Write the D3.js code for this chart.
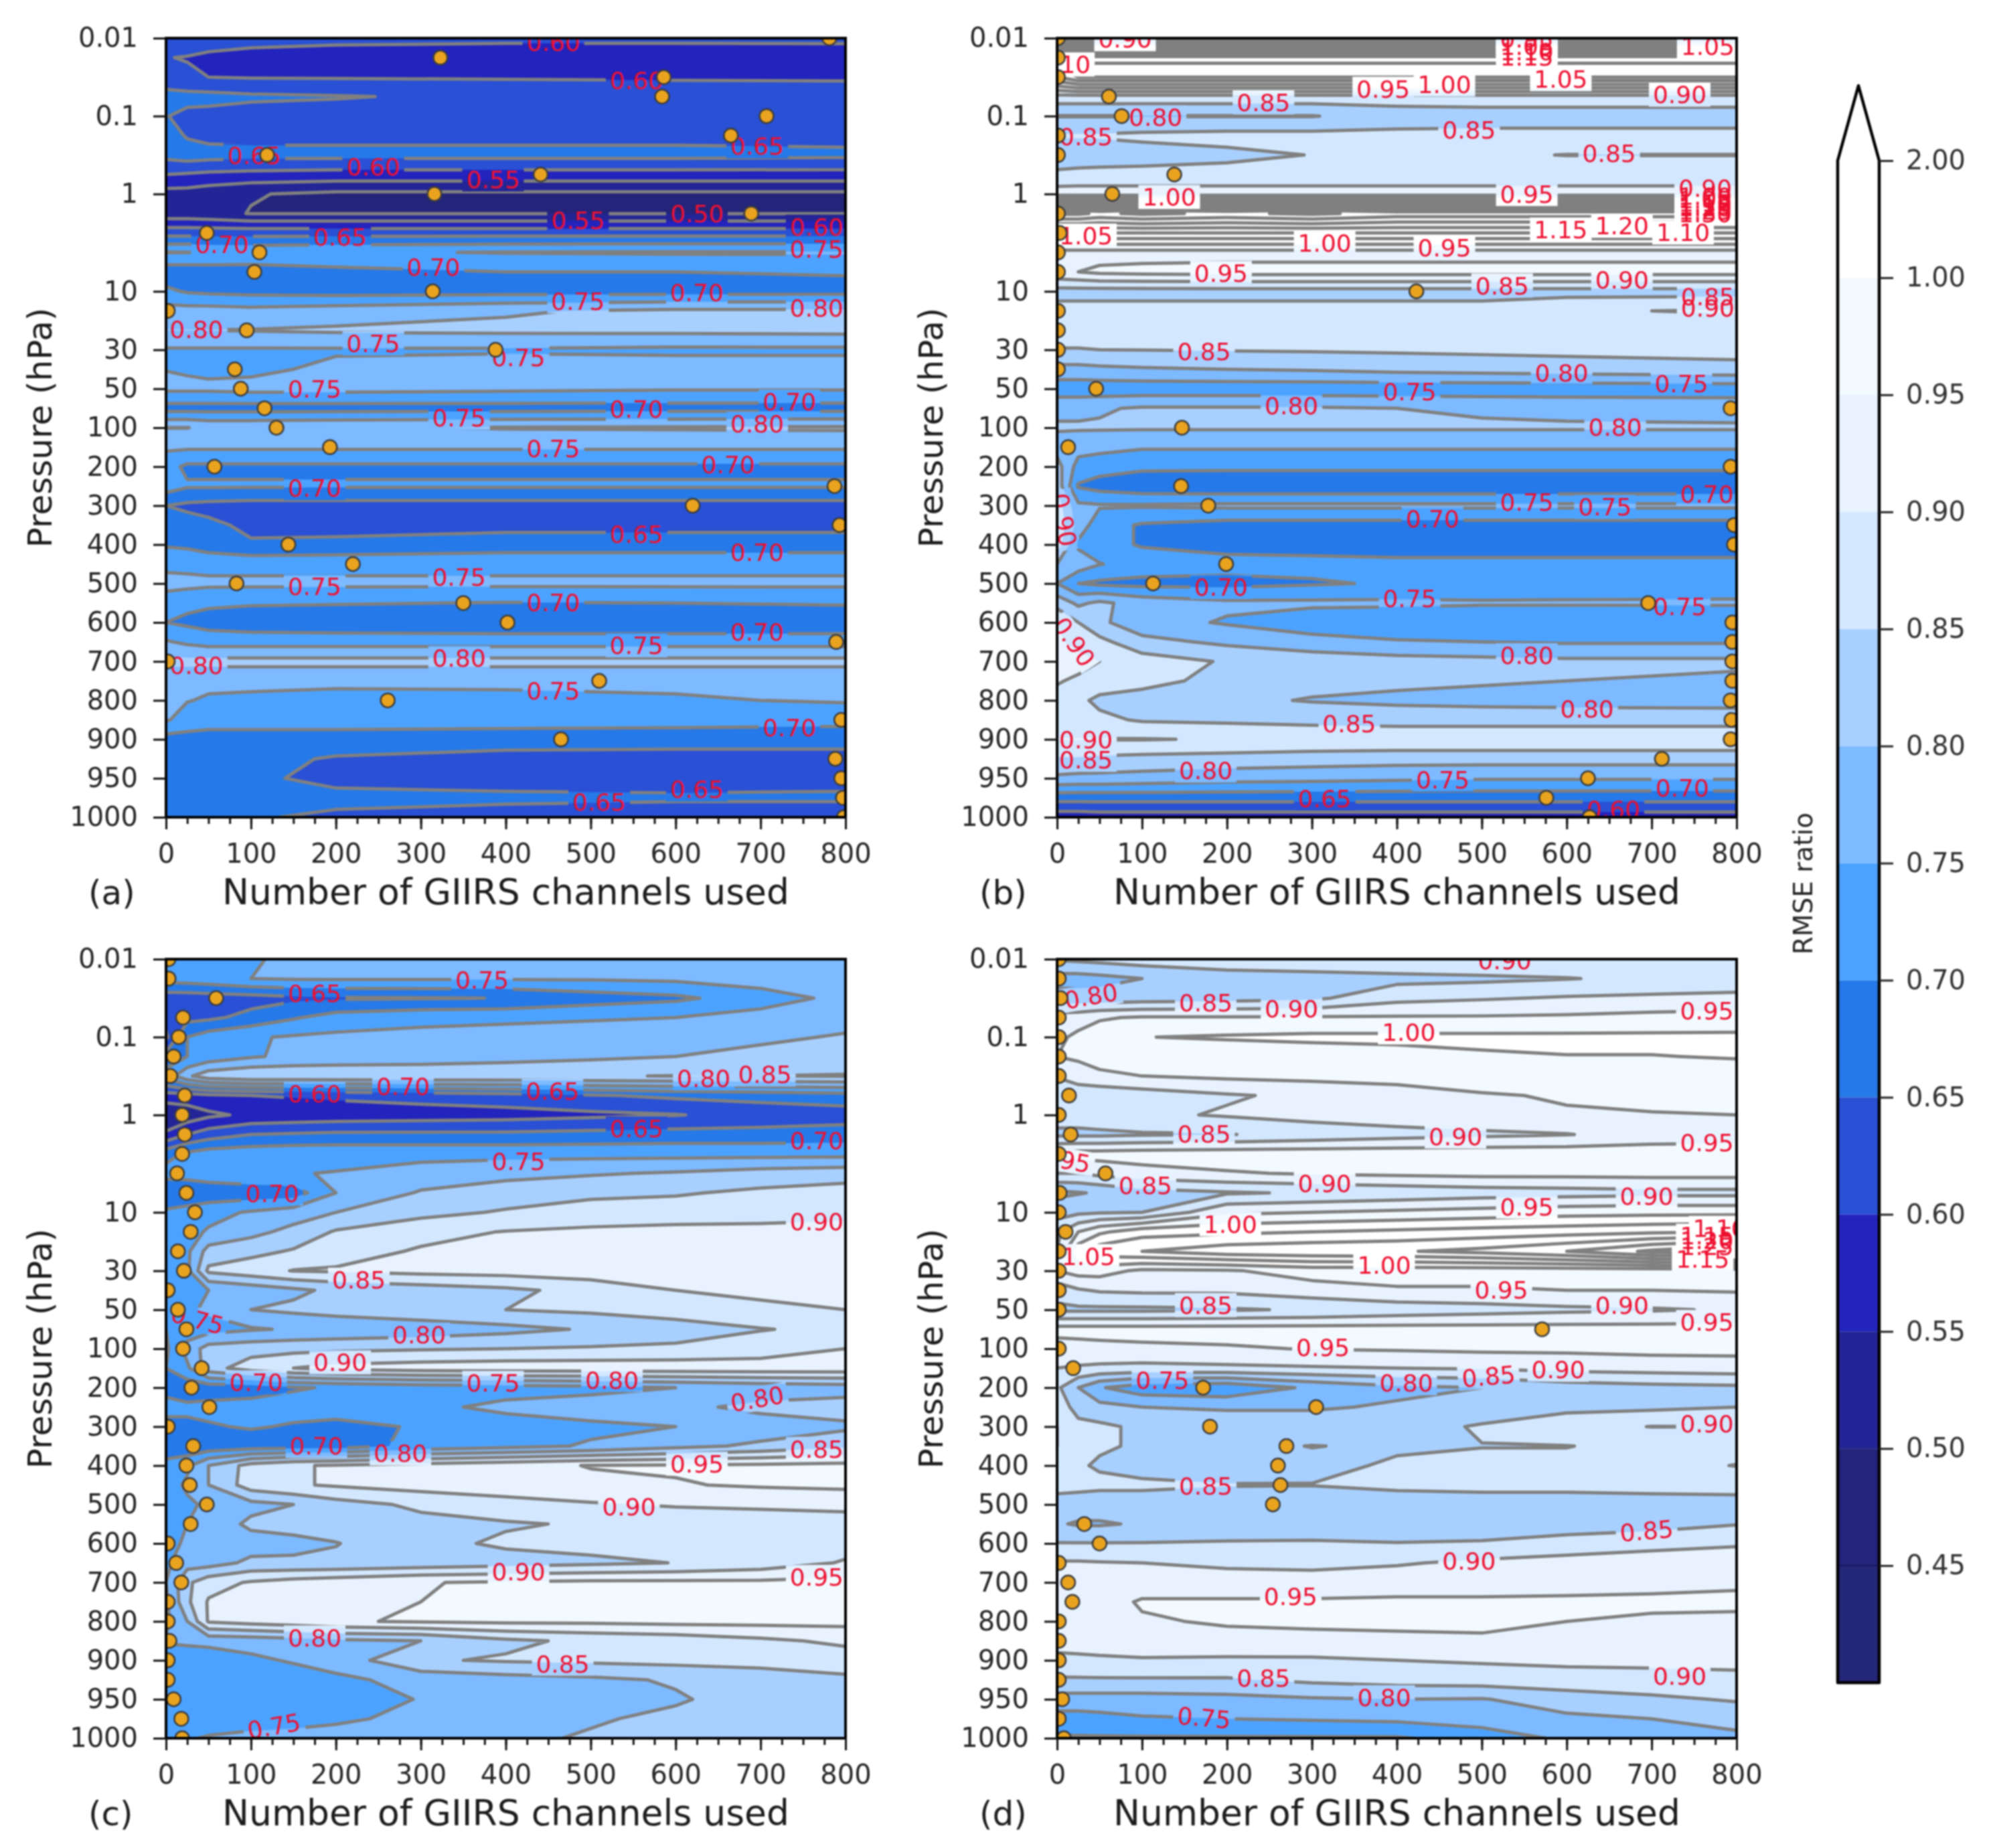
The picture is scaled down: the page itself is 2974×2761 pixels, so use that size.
<!DOCTYPE html>
<html>
<head>
<meta charset="utf-8">
<script src="https://cdn.jsdelivr.net/npm/d3@7"></script>
<style>
body { margin: 0; background: white; }
text { font-family: "DejaVu Sans"; }
svg { filter: blur(0.8px); }
</style>
</head>
<body>
<div id="chart"></div>
<script>
// row index on the pressure axis (41 levels) and the ones that carry a tick
const pressureRows = [0, 4, 8, 13, 16, 18, 20, 22, 24, 26, 28, 30, 32, 34, 36, 38, 40]
const pressureLabels = ["0.01", "0.1", "1", "10", "30", "50", "100", "200", "300", "400", "500", "600", "700", "800", "900", "950", "1000"]

const fillLevels = [0.45, 0.50, 0.55, 0.60, 0.65, 0.70, 0.75, 0.80, 0.85, 0.90, 0.95, 1.00]
const fillColors = ["#24267a", "#24247a", "#232596", "#2323bd", "#2950d5", "#2679e8", "#4ca3ff", "#7dbaff", "#a8d0ff", "#d3e8ff", "#e8f3ff", "#f3faff", "#ffffff"]
const lineLevels = [0.45, 0.50, 0.55, 0.60, 0.65, 0.70, 0.75, 0.80, 0.85, 0.90, 0.95, 1.00, 1.05, 1.10, 1.15, 1.20, 1.25, 1.30]
const barTicks = ["0.45", "0.50", "0.55", "0.60", "0.65", "0.70", "0.75", "0.80", "0.85", "0.90", "0.95", "1.00", "2.00"]

const channelsA = [0, 25, 50, 100, 200, 400, 600, 800]
const ratioA = [
[.65,.64,.635,.625,.618,.612,.612,.612],
[.602,.597,.585,.575,.567,.567,.567,.57],
[.625,.61,.60,.597,.596,.595,.595,.595],
[.665,.665,.665,.658,.653,.64,.625,.62],
[.652,.638,.635,.63,.63,.63,.63,.63],
[.675,.645,.635,.635,.635,.635,.635,.635],
[.665,.675,.67,.665,.665,.665,.665,.66],
[.60,.595,.59,.585,.58,.58,.58,.58],
[.53,.53,.52,.503,.49,.49,.49,.49],
[.52,.52,.515,.498,.498,.498,.498,.498],
[.63,.63,.63,.63,.63,.63,.63,.63],
[.752,.751,.745,.74,.745,.752,.755,.755],
[.67,.67,.675,.675,.685,.70,.70,.705],
[.71,.695,.69,.685,.68,.68,.68,.68],
[.77,.77,.77,.765,.775,.795,.81,.81],
[.801,.801,.801,.802,.807,.81,.812,.815],
[.745,.745,.745,.745,.745,.745,.74,.74],
[.749,.745,.74,.74,.76,.77,.775,.775],
[.76,.76,.76,.765,.765,.76,.755,.755],
[.68,.68,.68,.68,.68,.68,.68,.68],
[.801,.801,.79,.79,.795,.803,.805,.807],
[.758,.758,.758,.758,.758,.758,.758,.758],
[.72,.69,.69,.69,.69,.69,.69,.69],
[.725,.705,.705,.705,.705,.705,.705,.705],
[.65,.64,.635,.63,.63,.63,.63,.63],
[.68,.67,.66,.64,.635,.635,.635,.635],
[.695,.69,.675,.655,.66,.675,.675,.675],
[.735,.735,.735,.735,.735,.735,.735,.735],
[.77,.765,.76,.76,.76,.76,.76,.76],
[.72,.712,.708,.705,.703,.698,.70,.705],
[.70,.69,.68,.67,.665,.66,.66,.66],
[.755,.74,.73,.73,.73,.73,.73,.73],
[.815,.815,.815,.815,.815,.815,.815,.815],
[.76,.76,.76,.76,.76,.76,.76,.76],
[.76,.752,.745,.742,.735,.738,.745,.755],
[.755,.73,.72,.72,.72,.72,.72,.715],
[.68,.68,.68,.68,.68,.675,.67,.67],
[.68,.675,.67,.665,.645,.63,.63,.63],
[.67,.67,.665,.66,.635,.63,.635,.64],
[.67,.67,.67,.67,.665,.66,.655,.655],
[.675,.67,.67,.655,.64,.63,.63,.63]]
const bestA = [781,323,586,584,707,665,119,441,316,689,48,110,104,314,2,95,388,81,88,116,130,193,57,787,620,793,144,220,83,350,402,789,2,510,261,795,465,788,795,797,798]
const labelsA = [["0.60",456,.2],["0.60",554,2.15],["0.65",104,6],["0.60",244,6.6],["0.55",385,7.25],["0.55",485,9.35],["0.50",625,9],["0.65",205,10.2],["0.70",66,10.57],["0.65",696,5.55],["0.60",766,9.68],["0.75",766,10.83],["0.70",315,11.77],["0.70",625,13.07],["0.75",485,13.5],["0.80",766,13.85],["0.80",36,14.95],["0.75",244,15.67],["0.75",415,16.38],["0.75",175,18],["0.75",345,19.5],["0.70",554,19.04],["0.70",734,18.67],["0.80",696,19.8],["0.75",456,21.07],["0.70",662,21.9],["0.70",175,23.1],["0.65",554,25.47],["0.70",696,26.38],["0.75",345,27.65],["0.75",175,28.15],["0.70",456,28.98],["0.70",696,30.48],["0.75",554,31.17],["0.80",345,31.82],["0.80",36,32.2],["0.75",456,33.5],["0.70",734,35.4],["0.65",625,38.57],["0.65",510,39.2]]

const channelsB = [0, 25, 50, 100, 200, 300, 400, 500, 600, 800]
const ratioB = [
[.88,.88,.88,.88,.88,.88,.88,.88,.88,.88],
[1.2,1.22,1.22,1.22,1.22,1.22,1.22,1.22,1.22,1.22],
[1.10,1.15,1.15,1.15,1.15,1.15,1.15,1.15,1.15,1.15],
[.88,.88,.88,.88,.88,.88,.88,.88,.88,.88],
[.798,.798,.798,.798,.798,.798,.82,.825,.825,.825],
[.855,.855,.855,.86,.865,.865,.865,.865,.865,.865],
[.82,.82,.825,.83,.84,.851,.856,.853,.8495,.8495],
[.86,.865,.865,.865,.865,.865,.865,.865,.865,.865],
[.925,.925,.925,.925,.925,.925,.925,.925,.925,.925],
[1.31,1.31,1.29,1.31,1.29,1.31,1.28,1.28,1.28,1.28],
[1.10,1.10,1.10,1.10,1.10,1.10,1.10,1.10,1.10,1.10],
[.93,.93,.93,.93,.93,.93,.93,.93,.93,.93],
[.94,.95,.96,.965,.97,.97,.97,.97,.97,.97],
[.83,.83,.83,.83,.83,.83,.83,.83,.83,.83],
[.87,.87,.87,.87,.87,.87,.87,.87,.895,.905],
[.87,.87,.87,.87,.87,.87,.87,.87,.87,.87],
[.848,.848,.85,.851,.853,.855,.857,.86,.863,.866],
[.785,.785,.79,.795,.80,.805,.815,.82,.825,.835],
[.72,.72,.72,.72,.72,.72,.72,.72,.72,.72],
[.79,.79,.795,.805,.805,.805,.80,.795,.79,.785],
[.805,.805,.805,.805,.805,.805,.805,.805,.805,.805],
[.78,.77,.765,.755,.755,.755,.755,.755,.755,.755],
[.82,.73,.72,.71,.71,.71,.71,.71,.71,.71],
[.83,.695,.68,.665,.66,.66,.66,.66,.66,.66],
[.88,.76,.755,.755,.76,.76,.76,.76,.76,.76],
[.89,.78,.72,.695,.68,.68,.68,.68,.68,.68],
[.88,.74,.72,.695,.68,.68,.68,.68,.68,.68],
[.80,.78,.752,.73,.72,.715,.71,.71,.71,.71],
[.75,.70,.69,.685,.685,.695,.705,.72,.725,.73],
[.83,.79,.81,.78,.76,.76,.76,.755,.755,.755],
[.90,.85,.81,.77,.745,.72,.71,.71,.71,.715],
[.91,.88,.865,.815,.79,.77,.755,.75,.745,.745],
[.92,.92,.90,.875,.845,.83,.82,.815,.81,.81],
[.905,.89,.875,.865,.835,.815,.81,.805,.80,.79],
[.88,.86,.84,.83,.81,.797,.79,.785,.783,.78],
[.87,.87,.86,.845,.84,.835,.83,.83,.83,.83],
[.902,.902,.902,.902,.897,.89,.89,.89,.89,.89],
[.845,.845,.84,.835,.83,.825,.82,.82,.82,.82],
[.79,.785,.785,.78,.77,.765,.76,.755,.755,.755],
[.67,.67,.67,.67,.67,.67,.67,.67,.67,.67],
[.57,.57,.575,.575,.575,.575,.575,.575,.575,.575]]
const bestB = [1,1,1,61,76,1,1,138,65,1,3,1,1,423,1,1,1,1,46,793,147,13,793,146,178,797,797,199,113,696,795,795,795,795,793,794,793,712,625,576,627]
const labelsB = [["0.90",80,.05],["0.95",553,.05],["1.05",553,.4],["1.10",553,.7],["1.15",553,.95],["1.05",766,.43],["1.10",8,1.35],["1.05",593,2.1],["1.00",456,2.38],["0.95",384,2.6],["0.90",733,2.9],["0.85",243,3.3],["0.80",116,4.07],["0.85",485,4.7],["0.85",34,5.06],["0.85",650,5.9],["1.00",132,8.15],["0.95",553,8],["0.90",763,7.7],["1.00",763,8.1],["1.05",763,8.3],["1.10",763,8.45],["1.15",763,8.6],["1.20",763,8.7],["1.25",763,8.85],["1.30",763,9],["1.15",593,9.83],["1.20",665,9.63],["1.10",737,9.98],["1.05",34,10.14],["1.00",315,10.52],["0.95",456,10.75],["0.95",193,12.05],["0.90",665,12.4],["0.85",524,12.7],["0.85",766,13.27],["0.90",766,13.85],["0.85",173,16.1],["0.80",594,17.17],["0.75",735,17.74],["0.75",415,18.16],["0.80",276,18.85],["0.80",657,19.97],["0.90",8,24.73,80],["0.70",765,23.4],["0.75",553,23.8],["0.75",645,24.07],["0.70",442,24.68],["0.70",193,28.18],["0.75",415,28.75],["0.75",733,29.18],["0.90",20,31,55],["0.80",553,31.68],["0.80",624,34.44],["0.85",344,35.2],["0.90",34,36.03],["0.85",34,37.05],["0.80",175,37.6],["0.75",454,38.07],["0.70",736,38.5],["0.65",315,39.03],["0.60",655,39.6]]

const channelsC = [0, 25, 50, 100, 150, 200, 300, 400, 500, 600, 700, 800]
const ratioC = [
[.72,.725,.73,.745,.76,.76,.77,.775,.775,.78,.78,.78],
[.72,.725,.73,.75,.755,.755,.755,.755,.755,.76,.775,.77],
[.62,.62,.625,.63,.64,.645,.647,.651,.675,.69,.725,.765],
[.62,.635,.64,.665,.695,.72,.735,.74,.745,.75,.77,.78],
[.59,.70,.725,.745,.755,.76,.765,.77,.775,.78,.79,.805],
[.67,.70,.72,.745,.76,.765,.77,.78,.79,.80,.815,.83],
[.72,.79,.83,.845,.845,.845,.845,.845,.848,.851,.85,.852],
[.58,.58,.59,.60,.605,.61,.62,.63,.645,.66,.67,.68],
[.50,.52,.54,.56,.565,.57,.575,.58,.59,.598,.615,.625],
[.56,.60,.625,.65,.655,.66,.66,.66,.665,.67,.67,.675],
[.68,.71,.725,.73,.735,.735,.735,.735,.735,.735,.735,.735],
[.72,.72,.73,.74,.748,.752,.77,.785,.795,.805,.82,.83],
[.65,.66,.665,.67,.675,.75,.805,.825,.84,.845,.86,.87],
[.71,.72,.735,.755,.775,.80,.835,.855,.87,.875,.88,.885],
[.72,.735,.755,.785,.815,.855,.885,.902,.91,.915,.915,.92],
[.72,.74,.82,.835,.855,.88,.905,.92,.93,.93,.93,.93],
[.72,.74,.86,.88,.902,.905,.915,.92,.93,.935,.935,.935],
[.72,.72,.75,.77,.79,.81,.825,.84,.865,.90,.915,.92],
[.72,.74,.76,.80,.81,.82,.835,.85,.86,.875,.885,.90],
[.70,.72,.73,.745,.755,.76,.77,.785,.805,.825,.848,.86],
[.69,.77,.82,.83,.835,.84,.845,.85,.855,.86,.87,.90],
[.70,.74,.83,.875,.90,.915,.925,.93,.93,.93,.93,.93],
[.68,.67,.67,.675,.695,.705,.72,.725,.735,.75,.765,.775],
[.72,.71,.715,.72,.72,.725,.735,.765,.775,.785,.815,.825],
[.68,.69,.695,.705,.695,.685,.705,.72,.74,.75,.77,.79],
[.66,.66,.665,.67,.675,.675,.715,.735,.755,.785,.81,.84],
[.72,.74,.80,.87,.895,.905,.92,.935,.952,.955,.96,.965],
[.72,.76,.80,.875,.895,.905,.92,.93,.94,.947,.955,.96],
[.73,.74,.76,.785,.80,.83,.86,.88,.895,.905,.91,.915],
[.74,.75,.77,.81,.82,.825,.835,.845,.855,.865,.87,.875],
[.73,.76,.77,.78,.785,.798,.835,.858,.865,.87,.875,.88],
[.74,.78,.78,.81,.81,.81,.82,.83,.84,.851,.87,.905],
[.75,.84,.88,.905,.92,.93,.948,.955,.96,.96,.96,.965],
[.74,.84,.905,.92,.93,.94,.95,.96,.965,.97,.97,.97],
[.74,.80,.905,.92,.93,.945,.955,.96,.96,.965,.965,.965],
[.755,.76,.765,.77,.78,.79,.80,.84,.86,.87,.89,.91],
[.72,.72,.72,.74,.755,.77,.845,.855,.86,.865,.87,.875],
[.72,.72,.72,.72,.725,.74,.765,.78,.79,.805,.82,.84],
[.71,.71,.71,.715,.715,.72,.753,.76,.775,.795,.82,.825],
[.72,.72,.72,.725,.73,.74,.765,.78,.795,.81,.82,.825],
[.74,.745,.755,.765,.77,.775,.785,.79,.805,.815,.825,.83]]
const bestC = [3,3,59,20,15,9,5,22,19,22,19,13,24,34,29,14,21,2,14,24,20,42,30,51,2,32,24,28,48,29,2,12,18,2,2,4,2,2,9,18,19]
const labelsC = [["0.75",372,1.08],["0.65",175,1.76],["0.80",633,6.12],["0.85",705,5.92],["0.60",175,6.92],["0.70",279,6.53],["0.65",455,6.76],["0.65",554,8.7],["0.70",766,9.33],["0.75",415,10.38],["0.70",125,12.03],["0.90",766,13.48],["0.85",227,16.46],["0.75",37,18.5,15],["0.80",298,19.28],["0.90",205,20.7],["0.70",106,21.73],["0.75",385,21.76],["0.80",525,21.6],["0.80",696,22.58,-10],["0.70",177,24.99],["0.80",276,25.37],["0.85",766,25.14],["0.95",625,25.9],["0.90",545,28.1],["0.90",415,31.46],["0.95",766,31.72],["0.80",175,34.83],["0.85",467,36.17],["0.75",127,39.38,-10]]

const channelsD = [0, 25, 50, 100, 200, 300, 400, 500, 600, 700, 800]
const ratioD = [
[.855,.86,.865,.875,.895,.895,.895,.90,.895,.885,.885],
[.78,.78,.785,.80,.815,.825,.835,.84,.848,.86,.865],
[.82,.82,.82,.825,.83,.84,.885,.895,.905,.91,.915],
[.925,.93,.945,.955,.955,.955,.955,.955,.958,.965,.97],
[.94,.96,.975,.999,1.005,1.01,1.01,1.01,1.01,1.01,1.01],
[.95,.955,.96,.965,.97,.975,.985,.995,.999,.999,1.002],
[.905,.935,.945,.95,.96,.965,.97,.98,.985,.985,.985],
[.85,.855,.86,.875,.895,.91,.925,.945,.955,.96,.965],
[.87,.87,.88,.89,.905,.92,.93,.94,.945,.948,.95],
[.84,.84,.84,.845,.848,.865,.88,.89,.898,.92,.925],
[.965,.97,.97,.975,.98,.98,.98,.98,.98,.98,.98],
[.90,.90,.915,.93,.945,.955,.96,.965,.965,.967,.967],
[.79,.797,.805,.83,.845,.855,.865,.875,.88,.885,.885],
[.83,.84,.845,.85,.94,.95,.96,.97,.98,.985,.985],
[.89,.95,.99,1.03,1.04,1.05,1.06,1.07,1.08,1.09,1.10],
[.90,1.03,1.08,1.10,1.13,1.14,1.145,1.165,1.20,1.26,1.31],
[.95,.97,.97,.94,.945,.97,.97,.97,.97,.97,.97],
[.87,.895,.905,.91,.91,.93,.945,.945,.95,.95,.955],
[.84,.84,.84,.84,.845,.855,.87,.88,.89,.895,.905],
[.97,.97,.97,.97,.97,.97,.97,.97,.97,.97,.97],
[.925,.93,.935,.94,.945,.952,.955,.96,.96,.965,.965],
[.90,.895,.89,.885,.89,.895,.90,.905,.915,.92,.925],
[.86,.80,.755,.72,.71,.76,.79,.80,.825,.835,.84],
[.88,.83,.815,.80,.795,.795,.805,.82,.835,.84,.85],
[.90,.865,.86,.84,.825,.825,.83,.855,.885,.901,.90],
[.90,.87,.855,.845,.84,.851,.845,.849,.849,.86,.865],
[.88,.855,.845,.83,.825,.84,.855,.86,.86,.86,.849],
[.87,.865,.86,.86,.852,.851,.86,.865,.865,.87,.875],
[.825,.825,.825,.825,.825,.825,.825,.825,.825,.825,.825],
[.805,.795,.795,.805,.815,.815,.815,.82,.825,.83,.848],
[.852,.852,.852,.852,.855,.857,.852,.855,.87,.885,.895],
[.905,.905,.903,.90,.89,.885,.895,.91,.92,.925,.925],
[.905,.91,.92,.925,.925,.925,.93,.93,.935,.94,.945],
[.91,.92,.93,.955,.955,.955,.957,.957,.957,.957,.957],
[.92,.925,.93,.945,.955,.96,.965,.965,.95,.945,.943],
[.93,.93,.93,.93,.935,.935,.935,.94,.93,.93,.93],
[.88,.885,.89,.895,.892,.893,.90,.905,.91,.91,.915],
[.845,.845,.845,.845,.845,.86,.87,.875,.88,.885,.885],
[.78,.78,.78,.78,.785,.795,.80,.797,.825,.84,.855],
[.73,.73,.735,.745,.75,.755,.76,.775,.79,.80,.815],
[.695,.695,.695,.695,.695,.695,.695,.72,.76,.78,.79]]
const bestD = [2,2,4,2,2,2,2,14,2,16,2,57,3,2,10,2,2,2,2,571,2,19,172,305,180,270,260,263,254,32,50,2,13,18,2,2,2,2,6,2,8]
const labelsD = [["0.90",527,.08],["0.80",40,1.9,-10],["0.85",175,2.23],["0.90",276,2.56],["0.95",765,2.64],["1.00",414,3.76],["0.85",173,8.98],["0.90",469,9.1],["0.95",765,9.4],["0.95",8,10.3,10],["0.85",104,11.6],["0.90",315,11.5],["0.90",694,12.15],["0.95",553,12.7],["1.00",204,13.6],["1.10",780,13.8],["1.15",765,14.2],["1.20",765,14.45],["1.25",765,14.75],["1.15",760,15.4],["1.05",37,15.25],["1.00",385,15.7],["0.95",523,16.96],["0.90",665,17.76],["0.85",175,17.76],["0.95",765,18.63],["0.95",313,19.92],["0.75",124,21.6],["0.80",411,21.77],["0.85",508,21.42,-5],["0.90",590,21.08],["0.90",765,23.84],["0.85",175,27.05],["0.85",694,29.35,-5],["0.90",485,30.88],["0.95",275,32.72],["0.90",733,36.8],["0.85",243,36.9],["0.80",385,37.9],["0.75",173,38.95,5]]

const plotWidth = 1015
const plotHeight = 1164

let svg = d3.select("#chart").append("svg")
    .attr("width", 2974)
    .attr("height", 2761)
    .style("display", "block")

drawPanel("a", 248, 57, channelsA, ratioA, bestA, labelsA)
drawPanel("b", 1579, 57, channelsB, ratioB, bestB, labelsB)
drawPanel("c", 248, 1433, channelsC, ratioC, bestC, labelsC)
drawPanel("d", 1579, 1433, channelsD, ratioD, bestD, labelsD)
drawColorbar()

function drawPanel(name, left, top, channels, rows, best, labels) {
    const g = svg.append("g").attr("transform", `translate(${left},${top})`)
    const x = d3.scaleLinear().domain([0, 800]).range([0, plotWidth])
    const y = d3.scaleLinear().domain([0, 40]).range([0, plotHeight])
    // grid columns are not evenly spaced, so go index -> channel -> pixel
    const colToChannel = d3.scaleLinear().domain(channels.map((d, i) => i)).range(channels)

    const path = d3.geoPath(d3.geoTransform({
        point: function (px, py) {
            this.stream.point(x(colToChannel(px - 0.5)), y(py - 0.5))
        }
    }))
    const values = rows.flat()
    const contours = d3.contours().size([channels.length, rows.length])

    g.append("clipPath").attr("id", "clip" + name)
        .append("rect").attr("width", plotWidth).attr("height", plotHeight)

    const plot = g.append("g").attr("clip-path", `url(#clip${name})`)
    plot.append("rect").attr("width", plotWidth).attr("height", plotHeight).attr("fill", fillColors[0])

    plot.selectAll(".band")
        .data(fillLevels)
        .enter()
        .append("path")
        .attr("class", "band")
        .attr("d", d => path(contours.contour(values, d)))
        .attr("fill", (d, i) => fillColors[i + 1])

    // contour labels cut a gap in the lines, same as clabel does
    const mask = g.append("mask").attr("id", "gaps" + name)
        .attr("maskUnits", "userSpaceOnUse")
        .attr("x", -20).attr("y", -20)
        .attr("width", plotWidth + 40).attr("height", plotHeight + 40)
    mask.append("rect")
        .attr("x", -20).attr("y", -20)
        .attr("width", plotWidth + 40).attr("height", plotHeight + 40)
        .attr("fill", "white")
    mask.selectAll(".gap")
        .data(labels)
        .enter()
        .append("rect")
        .attr("class", "gap")
        .attr("x", -46).attr("y", -18)
        .attr("width", 92).attr("height", 36)
        .attr("fill", "black")
        .attr("transform", d => `translate(${x(d[1])},${y(d[2])}) rotate(${d[3] || 0})`)

    plot.append("g").attr("mask", `url(#gaps${name})`)
        .selectAll("path")
        .data(lineLevels)
        .enter()
        .append("path")
        .attr("d", d => path(contours.contour(values, d)))
        .attr("fill", "none")
        .attr("stroke", "#808080")
        .attr("stroke-width", 5)
        .attr("stroke-linejoin", "round")

    plot.selectAll(".clabel")
        .data(labels)
        .enter()
        .append("text")
        .attr("class", "clabel")
        .attr("transform", d => `translate(${x(d[1])},${y(d[2])}) rotate(${d[3] || 0})`)
        .attr("text-anchor", "middle")
        .attr("dy", "0.36em")
        .attr("font-size", 36)
        .attr("fill", "#ee1030")
        .text(d => d[0])

    plot.selectAll(".best")
        .data(best)
        .enter()
        .append("circle")
        .attr("class", "best")
        .attr("cx", d => x(d))
        .attr("cy", (d, i) => y(i))
        .attr("r", 10.5)
        .attr("fill", "#e9a31f")
        .attr("stroke", "#3c3c3c")
        .attr("stroke-width", 2.5)

    // frame
    g.append("rect").attr("width", plotWidth).attr("height", plotHeight)
        .attr("fill", "none").attr("stroke", "black").attr("stroke-width", 4)

    // axes
    const xAxis = g.append("g").attr("transform", `translate(0,${plotHeight})`)
        .call(d3.axisBottom(x).tickValues(d3.range(0, 801, 100)).tickSize(18).tickPadding(22).tickFormat(d3.format("d")))
    const xMinor = g.append("g").attr("transform", `translate(0,${plotHeight})`)
        .call(d3.axisBottom(x).tickValues(d3.range(0, 801, 25)).tickSize(10).tickFormat(""))
    const yAxis = g.append("g")
        .call(d3.axisLeft(y).tickValues(pressureRows).tickSize(19).tickPadding(23).tickFormat((d, i) => pressureLabels[i]))
    ;[xAxis, xMinor, yAxis].forEach(a => {
        a.select(".domain").remove()
        a.selectAll("line").attr("stroke", "#111").attr("stroke-width", 3)
        a.selectAll("text").attr("font-size", 40).attr("font-family", "DejaVu Sans").attr("fill", "#262626")
    })

    g.append("text")
        .attr("x", plotWidth / 2)
        .attr("y", plotHeight + 130)
        .attr("text-anchor", "middle")
        .attr("font-size", 53.5)
        .attr("fill", "#1c1c1c")
        .text("Number of GIIRS channels used")
    g.append("text")
        .attr("x", -116)
        .attr("y", plotHeight + 130)
        .attr("font-size", 50)
        .attr("fill", "#1c1c1c")
        .text(`(${name})`)
    g.append("text")
        .attr("transform", `translate(-189,${plotHeight / 2}) rotate(-90)`)
        .attr("dy", "0.36em")
        .attr("text-anchor", "middle")
        .attr("font-size", 50)
        .attr("fill", "#1c1c1c")
        .text("Pressure (hPa)")
}

function drawColorbar() {
    const left = 2745
    const barW = 62
    // uniform spacing: 0 is the lower end, 13 is the 2.00 tick
    const pos = d3.scaleLinear().domain([0, 13]).range([2514, 240])
    const g = svg.append("g")

    g.selectAll(".swatch")
        .data(fillColors)
        .enter()
        .append("rect")
        .attr("class", "swatch")
        .attr("x", left)
        .attr("y", (d, i) => pos(i + 1))
        .attr("width", barW)
        .attr("height", pos(0) - pos(1))
        .attr("fill", d => d)

    g.append("line")
        .attr("x1", left).attr("x2", left + barW)
        .attr("y1", pos(1)).attr("y2", pos(1))
        .attr("stroke", "#16185e").attr("stroke-width", 2)

    // outline with the arrow on top
    g.append("path")
        .attr("d", d3.line()([[left, pos(0)], [left, pos(13)], [left + barW / 2, 128], [left + barW, pos(13)], [left + barW, pos(0)]]) + "Z")
        .attr("fill", "none")
        .attr("stroke", "black")
        .attr("stroke-width", 4.5)
        .attr("stroke-linejoin", "round")

    const axis = g.append("g").attr("transform", `translate(${left + barW},0)`)
        .call(d3.axisRight(pos).tickValues(d3.range(1, 14)).tickSize(21).tickPadding(19).tickFormat((d, i) => barTicks[i]))
    axis.select(".domain").remove()
    axis.selectAll("line").attr("stroke", "#222").attr("stroke-width", 3)
    axis.selectAll("text").attr("font-size", 40).attr("font-family", "DejaVu Sans").attr("fill", "#333")

    g.append("text")
        .attr("transform", "translate(2693,1320) rotate(-90)")
        .attr("dy", "0.36em")
        .attr("text-anchor", "middle")
        .attr("font-size", 39)
        .attr("fill", "#262626")
        .text("RMSE ratio")
}
</script>
</body>
</html>
